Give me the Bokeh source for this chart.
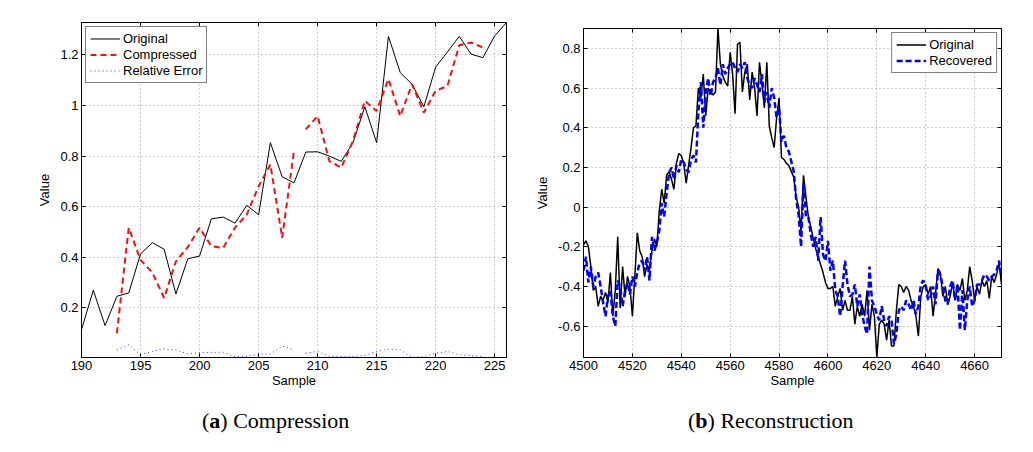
from bokeh.plotting import figure
from bokeh.models import Range1d, LinearAxis, CustomJSTickFormatter, FixedTicker, Div
from bokeh.layouts import row, column
from bokeh.embed import file_html
from bokeh.resources import INLINE

# ---------------- (a) Compression ----------------
a_start = 190
a_original = [0.114, 0.27, 0.13, 0.246, 0.259, 0.413, 0.458, 0.432, 0.255, 0.394,
              0.405, 0.552, 0.559, 0.535, 0.605, 0.568, 0.853, 0.718, 0.694, 0.816,
              0.817, 0.80, 0.779, 0.853, 0.995, 0.853, 1.273, 1.13, 1.084, 0.995,
              1.152, 1.212, 1.273, 1.203, 1.189, 1.275, 1.328]
a_comp_start = 193
a_compressed = [0.10, 0.517, 0.39, 0.34, 0.239, 0.384, 0.44, 0.517, 0.444, 0.437,
                0.517, 0.569, 0.68, 0.767, 0.477, 0.82, 0.906, 0.958, 0.78, 0.754,
                0.86, 1.018, 0.978, 1.104, 0.958, 1.084, 0.972, 1.058, 1.077, 1.238,
                1.249, 1.229]
a_relerr = [0.034, 0.054, 0.015, 0.028, 0.038, 0.034, 0.018, 0.024, 0.024, 0.025,
            0.007, 0.008, 0.018, 0.017, 0.049, 0.034, 0.021, 0.028, 0.008, 0.008,
            0.008, 0.012, 0.028, 0.037, 0.034, 0.004, 0.008, 0.021, 0.028, 0.015,
            0.011, 0.008]
a_break_after = 208
a_xticks = [190, 195, 200, 205, 210, 215, 220, 225]
a_yticks = [0.2, 0.4, 0.6, 0.8, 1.0, 1.2]

# ---------------- (b) Reconstruction ----------------
b_start = 4500
b_original = [
    -0.19, -0.17, -0.20, -0.30, -0.42, -0.40, -0.50, -0.45, -0.47, -0.43,
    -0.48, -0.33, -0.55, -0.42, -0.15, -0.51, -0.30, -0.45, -0.35, -0.40,
    -0.55, -0.35, -0.13, -0.22, -0.25, -0.35, -0.29, -0.32, -0.22, -0.16,
    -0.20, -0.02, 0.09, 0.02, 0.16, 0.18, 0.14, 0.09, 0.22, 0.27,
    0.26, 0.22, 0.12, 0.21, 0.30, 0.40, 0.41, 0.60, 0.55, 0.67,
    0.46, 0.60, 0.58, 0.565, 0.58, 0.90, 0.72, 0.66, 0.63, 0.61,
    0.78, 0.67, 0.47, 0.82, 0.83, 0.58, 0.68, 0.72, 0.54, 0.68,
    0.60, 0.46, 0.73, 0.62, 0.50, 0.73, 0.41, 0.35, 0.30, 0.45,
    0.55, 0.25, 0.24, 0.22, 0.21, 0.18, 0.15, 0.05, 0.00, -0.12,
    0.16, 0.05, -0.05, -0.10, -0.16, -0.21, -0.25, -0.29, -0.33, -0.38,
    -0.41, -0.41, -0.40, -0.50, -0.45, -0.41, -0.52, -0.47, -0.52, -0.52,
    -0.45, -0.59, -0.50, -0.55, -0.49, -0.55, -0.42, -0.62, -0.49, -0.55,
    -0.758, -0.59, -0.57, -0.59, -0.67, -0.57, -0.70, -0.70, -0.52, -0.39,
    -0.40, -0.43, -0.40, -0.42, -0.47, -0.50, -0.55, -0.65, -0.45, -0.40,
    -0.39, -0.44, -0.40, -0.55, -0.44, -0.31, -0.33, -0.45, -0.40, -0.49,
    -0.45, -0.38, -0.47, -0.39, -0.42, -0.36, -0.47, -0.42, -0.30, -0.37,
    -0.47, -0.40, -0.44, -0.37, -0.40, -0.37, -0.46, -0.35, -0.38, -0.34,
    -0.28, -0.39]
b_recovered = [
    -0.32, -0.25, -0.38, -0.30, -0.40, -0.35, -0.33, -0.40, -0.48, -0.55,
    -0.45, -0.42, -0.55, -0.60, -0.37, -0.40, -0.50, -0.42, -0.38, -0.44,
    -0.35, -0.40, -0.33, -0.28, -0.27, -0.32, -0.25, -0.37, -0.15, -0.22,
    -0.18, -0.12, 0.02, -0.05, 0.07, 0.17, 0.20, 0.14, 0.21, 0.175,
    0.24, 0.225, 0.19, 0.175, 0.24, 0.26, 0.225, 0.48, 0.63, 0.40,
    0.58, 0.65, 0.56, 0.63, 0.65, 0.70, 0.615, 0.72, 0.67, 0.70,
    0.72, 0.73, 0.70, 0.68, 0.72, 0.70, 0.73, 0.65, 0.615, 0.60,
    0.65, 0.615, 0.58, 0.67, 0.53, 0.58, 0.50, 0.60, 0.55, 0.45,
    0.50, 0.33, 0.36, 0.30, 0.28, 0.23, 0.18, 0.04, -0.04, -0.20,
    0.12, -0.05, -0.05, -0.14, -0.20, -0.15, -0.27, -0.05, -0.24, -0.27,
    -0.17, -0.32, -0.27, -0.42, -0.45, -0.55, -0.40, -0.27, -0.39, -0.45,
    -0.44, -0.39, -0.50, -0.44, -0.54, -0.60, -0.64, -0.30, -0.47, -0.50,
    -0.54, -0.57, -0.50, -0.57, -0.60, -0.55, -0.57, -0.69, -0.64, -0.52,
    -0.50, -0.52, -0.47, -0.49, -0.52, -0.47, -0.54, -0.50, -0.39, -0.37,
    -0.40, -0.47, -0.45, -0.40, -0.49, -0.32, -0.345, -0.40, -0.47, -0.49,
    -0.40, -0.37, -0.47, -0.39, -0.62, -0.42, -0.62, -0.47, -0.40, -0.50,
    -0.47, -0.39, -0.39, -0.37, -0.34, -0.35, -0.37, -0.35, -0.34, -0.32,
    -0.27, -0.35]
b_xticks = [4500, 4520, 4540, 4560, 4580, 4600, 4620, 4640, 4660]
b_yticks = [-0.6, -0.4, -0.2, 0.0, 0.2, 0.4, 0.6, 0.8]

FONT = "Liberation Sans"
SERIF = "Liberation Serif"

num_fmt = CustomJSTickFormatter(code="return String(Math.round(tick*10)/10);")


def split(xs, ys, brk):
    i = xs.index(brk) + 1
    return [xs[:i], xs[i:]], [ys[:i], ys[i:]]


def style(p, xt, yt):
    p.xaxis.ticker = FixedTicker(ticks=xt)
    p.yaxis.ticker = FixedTicker(ticks=yt)
    p.yaxis.formatter = num_fmt
    for ax in (p.xaxis[0], p.yaxis[0]):
        ax.major_tick_in = 4
        ax.major_tick_out = 0
        ax.minor_tick_line_color = None
        ax.axis_line_color = "black"
        ax.major_tick_line_color = "black"
        ax.major_label_text_font = FONT
        ax.major_label_text_font_size = "13px"
        ax.major_label_text_color = "black"
        ax.axis_label_text_font = FONT
        ax.axis_label_text_font_size = "13px"
        ax.axis_label_text_font_style = "normal"
        ax.axis_label_text_color = "black"
        ax.major_label_standoff = 3
    p.xaxis.axis_label_standoff = 0
    p.yaxis.axis_label_standoff = 5
    p.xgrid.ticker = FixedTicker(ticks=xt)
    p.ygrid.ticker = FixedTicker(ticks=yt)
    p.grid.grid_line_color = "#a0a0a0"
    p.grid.grid_line_dash = "1 3"
    p.grid.grid_line_width = 1
    empty = CustomJSTickFormatter(code="return '';")
    top = LinearAxis(ticker=FixedTicker(ticks=xt), formatter=empty,
                     major_tick_in=4, major_tick_out=0, minor_tick_line_color=None,
                     major_label_standoff=0, axis_line_color="black",
                     major_label_text_font_size="1px")
    right = LinearAxis(ticker=FixedTicker(ticks=yt), formatter=empty,
                       major_tick_in=4, major_tick_out=0, minor_tick_line_color=None,
                       major_label_standoff=0, axis_line_color="black",
                       major_label_text_font_size="1px")
    p.add_layout(top, "above")
    p.add_layout(right, "right")
    p.outline_line_color = "black"
    p.outline_line_width = 1
    p.background_fill_color = "white"
    p.border_fill_color = "white"


def style_legend(p, loc):
    lg = p.legend[0]
    lg.location = loc
    lg.margin = 4
    lg.padding = 4
    lg.spacing = 1
    lg.glyph_width = 30
    lg.glyph_height = 15
    lg.label_height = 15
    lg.label_standoff = 3
    lg.label_text_font = FONT
    lg.label_text_font_size = "13px"
    lg.label_text_color = "black"
    lg.border_line_color = "black"
    lg.border_line_width = 1
    lg.background_fill_alpha = 1.0


# ---- figure (a)
xa = list(range(a_start, a_start + len(a_original)))
xc = list(range(a_comp_start, a_comp_start + len(a_compressed)))
xe = list(range(a_comp_start, a_comp_start + len(a_relerr)))
all_a = a_original + a_compressed + a_relerr

p1 = figure(output_backend="svg", toolbar_location=None,
            frame_width=425, frame_height=335,
            min_border_left=81, min_border_right=24, min_border_top=22, min_border_bottom=40,
            x_range=Range1d(a_start, xa[-1]),
            y_range=Range1d(min(all_a), max(all_a)))
p1.line(xa, a_original, line_color="black", line_width=1, legend_label="Original")
cx, cy = split(xc, a_compressed, a_break_after)
p1.multi_line(cx, cy, line_color="#ee1111", line_width=2, line_dash="6 4",
              legend_label="Compressed")
ex, ey = split(xe, a_relerr, a_break_after)
p1.multi_line(ex, ey, line_color="#3333ee", line_width=1, line_dash="1 3",
              legend_label="Relative Error")
p1.xaxis.axis_label = "Sample"
p1.yaxis.axis_label = "Value"
style(p1, a_xticks, a_yticks)
style_legend(p1, "top_left")

# ---- figure (b)
xb = list(range(b_start, b_start + len(b_original)))
xr = list(range(b_start, b_start + len(b_recovered)))
all_b = b_original + b_recovered

p2 = figure(output_backend="svg", toolbar_location=None,
            frame_width=418, frame_height=329,
            min_border_left=53, min_border_right=22, min_border_top=28, min_border_bottom=40,
            x_range=Range1d(b_start, xb[-1]),
            y_range=Range1d(min(all_b), max(all_b)))
p2.line(xb, b_original, line_color="black", line_width=1.5, legend_label="Original")
p2.line(xr, b_recovered, line_color="#0000ff", line_width=2.5, line_dash="6 3",
        legend_label="Recovered")
p2.xaxis.axis_label = "Sample"
p2.yaxis.axis_label = "Value"
style(p2, b_xticks, b_yticks)
style_legend(p2, "top_right")

cap_style = ("font-family:'Liberation Serif';font-size:22px;line-height:25px;"
             "color:black;white-space:nowrap;")
cap_a = Div(text=f'<div style="{cap_style}">(<b>a</b>) Compression</div>',
            width=300, height=25, margin=(11, 0, 0, 202))
cap_b = Div(text=f'<div style="{cap_style}">(<b>b</b>) Reconstruction</div>',
            width=300, height=25, margin=(11, 0, 0, 158))

layout = row(column(p1, cap_a), column(p2, cap_b))

with open("out.html", "w") as f:
    f.write(file_html(layout, INLINE))
